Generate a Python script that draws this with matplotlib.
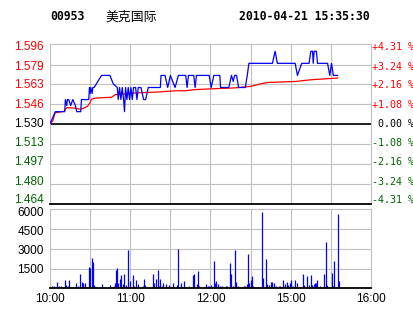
import matplotlib
matplotlib.use('Agg')
import matplotlib.pyplot as plt
import matplotlib.transforms as mtransforms

#%% Data (minutes since 10:00 in trading time, 30 min per grid column)

code = '00953'
name = '美克国际'
stamp = '2010-04-21 15:35:30'
prev_close = 1.530

price_ticks = [1.596, 1.579, 1.563, 1.546, 1.530, 1.513, 1.497, 1.480, 1.464]
pct_labels = ['+4.31 %', '+3.24 %', '+2.16 %', '+1.08 %', ' 0.00 %',
              '-1.08 %', '-2.16 %', '-3.24 %', '-4.31 %']
vol_ticks = [6000, 4500, 3000, 1500]
time_ticks = [0, 60, 120, 180, 240]
time_labels = ['10:00', '11:00', '12:00', '15:00', '16:00']

# last price
price_t = [0, 4, 11, 11.5, 12.5, 13, 14, 15.5, 17, 19, 20, 23, 23.5, 29, 29.5,
           30, 30.5, 31.5, 32, 33, 38.5, 44.8, 47.3, 50.3, 51, 52, 53, 54, 55,
           55.7, 56.5, 57.5, 58.5, 59.5, 60.5, 61.5, 62.5, 64, 65, 66, 68, 69,
           70, 71.5, 73.5, 82.5, 83, 86, 88, 90, 93.5, 96, 101.5, 102.5, 103.5,
           107.5, 108.5, 109.5, 119, 120.5, 122.5, 123.7, 127, 127.5, 133.7,
           135.7, 137, 138, 139.5, 141, 146, 147.5, 148.7, 166.3, 168.3, 170,
           183.3, 185, 188.2, 193.7, 195, 196.3, 196.8, 197.5, 199.2, 200,
           207.5, 209.2, 210.5, 211.8, 215]
price_v = [1.53, 1.54, 1.54, 1.55, 1.545, 1.55, 1.55, 1.545, 1.55, 1.545, 1.54,
           1.54, 1.55, 1.55, 1.56, 1.555, 1.56, 1.555, 1.56, 1.56, 1.57, 1.57,
           1.563, 1.56, 1.55, 1.56, 1.55, 1.56, 1.55, 1.54, 1.56, 1.55, 1.56,
           1.55, 1.56, 1.55, 1.56, 1.56, 1.55, 1.56, 1.56, 1.555, 1.55, 1.55,
           1.56, 1.56, 1.57, 1.57, 1.56, 1.57, 1.56, 1.57, 1.57, 1.56, 1.57,
           1.57, 1.56, 1.57, 1.57, 1.56, 1.57, 1.57, 1.57, 1.56, 1.56, 1.57,
           1.565, 1.57, 1.57, 1.56, 1.56, 1.57, 1.58, 1.58, 1.59, 1.58, 1.58,
           1.57, 1.58, 1.58, 1.59, 1.59, 1.58, 1.59, 1.59, 1.58, 1.58, 1.57,
           1.58, 1.57, 1.57]

# average price
avg_t = [0, 2, 3.75, 5, 10.5, 12.5, 18, 23, 28, 30, 31, 33.5, 40, 46, 48.75,
         63.75, 81.2, 93.75, 101.25, 107.5, 122.5, 137.25, 150, 157.5, 163.5,
         183.75, 195, 206.25, 215]
avg_v = [1.530, 1.5321, 1.5388, 1.5393, 1.5403, 1.5433, 1.5430, 1.5420,
         1.5443, 1.5476, 1.5503, 1.5511, 1.5516, 1.5519, 1.5541, 1.5555,
         1.5563, 1.5573, 1.5573, 1.5582, 1.5590, 1.5596, 1.5609, 1.5631,
         1.5642, 1.5650, 1.5664, 1.5672, 1.5678]

# volume
vol_t = [1.75, 3, 5.5, 6.75, 8, 11.25, 12.25, 13.75, 14.5, 19.75,
         21, 22.5, 24, 25, 26, 29.25, 30.25, 31.5, 32.25, 33,
         39.25, 45, 47.5, 48.5, 49.5, 50.25, 51, 52.5, 53.25, 54.25,
         55.5, 56.75, 58.5, 60, 62.25, 63, 64.5, 66, 69.25, 70.5,
         71.25, 76.75, 77.5, 79.5, 80.5, 81.25, 82.5, 83.5, 84.5, 87,
         89.25, 92.25, 95, 95.5, 98.25, 100.5, 104.25, 107.25, 108, 109.75,
         110.5, 111.75, 117, 118.25, 119.25, 120.5, 122.25, 123.25, 124, 125.5,
         126.75, 128.75, 131.75, 132.5, 134.5, 135.5, 136.5, 138, 139, 140.5,
         144.75, 146, 147, 147.75, 148.5, 150, 150.75, 151.75, 158.25, 159.25,
         161.25, 162.5, 163.75, 165, 166, 167.5, 169.25, 171, 171.75, 174.25,
         175.5, 177, 178, 179.5, 180, 180.5, 181.5, 183, 185, 189.25,
         190, 192.5, 193.75, 195, 196, 197.25, 198, 198.75, 200, 201.75,
         204.75, 206.25, 207.25, 210.5, 211.25, 212.25, 215.5, 216.25]
vol_v = [177, 177, 481, 177, 177, 633, 253, 177, 633, 380,
         177, 1088, 481, 430, 380, 1619, 1569, 2302, 2024, 253,
         329, 253, 177, 430, 1417, 1543, 430, 708, 987, 304,
         1088, 253, 2935, 531, 1012, 177, 633, 304, 177, 708,
         253, 1088, 405, 683, 1417, 177, 708, 177, 380, 329,
         253, 405, 253, 3011, 380, 582, 177, 987, 1088, 304,
         1341, 177, 329, 177, 177, 253, 2075, 430, 582, 329,
         177, 177, 177, 177, 1948, 1088, 177, 2910, 506, 177,
         177, 177, 329, 2606, 380, 633, 936, 177, 5794, 759,
         2226, 329, 253, 506, 506, 430, 177, 177, 177, 633,
         329, 506, 253, 380, 633, 253, 177, 633, 380, 1088,
         253, 936, 253, 1012, 253, 329, 380, 380, 633, 177,
         1088, 3517, 253, 1164, 177, 2075, 5642, 582]

#%% Styling

red = '#ff0000'
green = '#006400'
grid_c = '#c0c0c0'
tick_font = 'Liberation Sans'
mono_font = 'DejaVu Sans Mono'

fig = plt.figure(figsize=(4.14, 3.14), dpi=100)
W, H = 414.0, 314.0
ax1 = fig.add_axes([50 / W, 1 - 203.5 / H, 321 / W, 159.5 / H])
ax2 = fig.add_axes([50 / W, 1 - 288.3 / H, 321 / W, 79 / H])

for ax in (ax1, ax2):
    ax.set_xlim(0, 240)
    ax.set_xticks([])
    ax.set_yticks([])
    for t in range(30, 240, 30):
        ax.axvline(t, color=grid_c, lw=0.8, zorder=0)
    for s in ax.spines.values():
        s.set_color(grid_c)
        s.set_linewidth(0.8)
    ax.spines['bottom'].set_color('black')
    ax.spines['bottom'].set_linewidth(1.3)

# price panel
ax1.set_ylim(price_ticks[-1], price_ticks[0])
for p in price_ticks[1:-1]:
    ax1.axhline(p, color=grid_c, lw=0.8, zorder=0)
ax1.axhline(prev_close, color='black', lw=1.2, zorder=1)
ax1.plot(avg_t, avg_v, color=red, lw=0.9, zorder=2)
ax1.plot(price_t, price_v, color='blue', lw=0.9, zorder=3)

# labels sit a little tighter than the grid rows
for i, p in enumerate(price_ticks):
    if i < 4:
        c = red
    elif i == 4:
        c = 'black'
    else:
        c = green
    dy = -(3 - 0.78 * i)
    ltr = mtransforms.offset_copy(ax1.get_yaxis_transform(), fig=fig, x=-6, y=dy, units='dots')
    rtr = mtransforms.offset_copy(ax1.get_yaxis_transform(), fig=fig, x=1, y=dy, units='dots')
    ax1.text(0, p, '%.3f' % p, transform=ltr, ha='right', va='center',
             color=c, fontsize=8.5, family=tick_font)
    ax1.text(1, p, pct_labels[i], transform=rtr, ha='left', va='center',
             color=c, fontsize=7.2, family=mono_font)

# volume panel
ax2.set_ylim(0, 6000)
ax2.vlines(vol_t, 0, vol_v, color='blue', lw=0.9, zorder=2)
for i, v in enumerate(vol_ticks):
    if v < 6000:
        ax2.axhline(v, color=grid_c, lw=0.8, zorder=0)
    vtr = mtransforms.offset_copy(ax2.get_yaxis_transform(), fig=fig, x=-6,
                                  y=-(4 - 0.8 * i), units='dots')
    ax2.text(0, v, str(v), transform=vtr, ha='right', va='center',
             fontsize=8.5, family=tick_font)
for t, lab in zip(time_ticks, time_labels):
    ax2.text(t, -0.14, lab, transform=ax2.get_xaxis_transform(), ha='center',
             va='center', fontsize=8.5, family=tick_font)

# header
fig.text(50 / W, 1 - 17 / H, code, ha='left', va='center', fontsize=8.3,
         family=mono_font, weight='bold')
fig.text(105 / W, 1 - 17 / H, name, ha='left', va='center', fontsize=9.3,
         family=['Noto Sans CJK SC', 'DejaVu Sans'])
fig.text(370 / W, 1 - 17 / H, stamp, ha='right', va='center', fontsize=8.3,
         family=mono_font, weight='bold')

fig.savefig('out.png', dpi=100)
